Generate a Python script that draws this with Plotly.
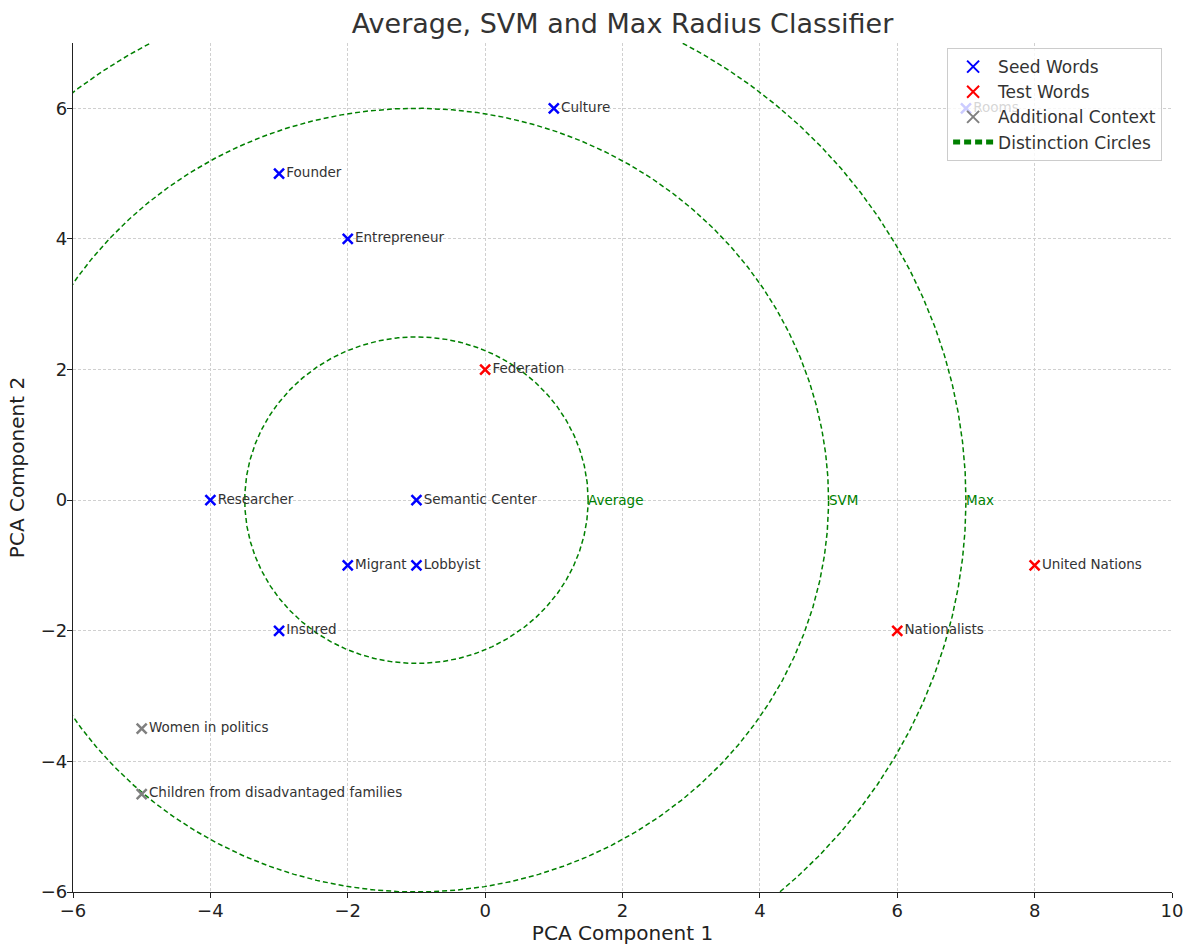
import numpy as np
import plotly.graph_objects as go

# ---- data ----
seed_words = ["Culture", "Founder", "Entrepreneur", "Researcher", "Semantic Center",
              "Migrant", "Lobbyist", "Insured", "Rooms"]
seed_x = [1, -3, -2, -4, -1, -2, -1, -3, 7]
seed_y = [6, 5, 4, 0, 0, -1, -1, -2, 6]

test_words = ["Federation", "United Nations", "Nationalists"]
test_x = [0, 8, 6]
test_y = [2, -1, -2]

context_words = ["Women in politics", "Children from disadvantaged families"]
context_x = [-5, -5]
context_y = [-3.5, -4.5]

center = (-1, 0)
circle_names = ["Average", "SVM", "Max"]
circle_radii = [2.5, 6, 8]

FONT = "DejaVu Sans"
TXT = "#333333"

fig = go.Figure()

# circles
theta = np.linspace(0, 2 * np.pi, 1441)
for name, r in zip(circle_names, circle_radii):
    fig.add_trace(go.Scatter(
        x=center[0] + r * np.cos(theta), y=center[1] + r * np.sin(theta),
        mode="lines", line=dict(color="green", width=1.5, dash="5px,3px"),
        showlegend=False, hoverinfo="skip"))
    fig.add_annotation(x=center[0] + r, y=center[1], text=name, showarrow=False,
                       xanchor="left", yanchor="middle", xshift=-2,
                       font=dict(family=FONT, size=13.5, color="green"))

# legend entry for the circles
fig.add_trace(go.Scatter(
    x=[None], y=[None], mode="lines",
    line=dict(color="green", width=1.8, dash="7px,4px"),
    name="Distinction Circles", legendrank=4))

def words(x, y, labels, color, name, rank):
    fig.add_trace(go.Scatter(
        x=x, y=y, mode="markers+text", text=labels, textposition="middle right",
        textfont=dict(family=FONT, size=13.5, color=TXT),
        marker=dict(symbol="x-thin", size=10, line=dict(width=2.5, color=color), color=color),
        name=name, legendrank=rank))

words(seed_x, seed_y, seed_words, "blue", "Seed Words", 1)
words(test_x, test_y, test_words, "red", "Test Words", 2)
words(context_x, context_y, context_words, "gray", "Additional Context", 3)

axis_common = dict(
    showgrid=True, gridcolor="#d0d0d0", griddash="3px,2px", gridwidth=1,
    zeroline=False, showline=True, linecolor="#222222", linewidth=1.3, mirror=False,
    ticks="outside", ticklen=5, tickcolor="#222222", tickwidth=1.2,
    tickfont=dict(family=FONT, size=18, color="#222222"), dtick=2,
    automargin=False, ticklabeloverflow="allow",
)

fig.update_layout(
    width=1186, height=945,
    margin=dict(l=73, r=14, t=43, b=53),
    paper_bgcolor="white", plot_bgcolor="white",
    font=dict(family=FONT, color=TXT),
    title=dict(text="Average, SVM and Max Radius Classifier", x=0.5, xref="paper",
               y=1 - 24 / 945, yref="container", xanchor="center", yanchor="middle",
               font=dict(family=FONT, size=27, color=TXT)),
    xaxis=dict(range=[-6, 10], tick0=-6, ticklabelstandoff=-3,
               title=dict(text="PCA Component 1", font=dict(family=FONT, size=20, color="#222222"), standoff=19),
               **axis_common),
    yaxis=dict(range=[-6, 7], tick0=-6, ticklabelstandoff=-4,
               title=dict(text="PCA Component 2", font=dict(family=FONT, size=20, color="#222222"), standoff=10),
               **axis_common),
    legend=dict(x=0.991, y=0.994, xanchor="right", yanchor="top",
                bgcolor="rgba(255,255,255,0.8)", bordercolor="#cccccc", borderwidth=1,
                font=dict(family=FONT, size=17, color=TXT), tracegroupgap=0,
                itemsizing="constant", itemwidth=40),
    showlegend=True,
)

# remove the default 8px page margin so the 1186x945 figure fills the window exactly
fig.write_html("out.html", config={"displayModeBar": False},
               post_script="document.body.style.margin='0px';")
